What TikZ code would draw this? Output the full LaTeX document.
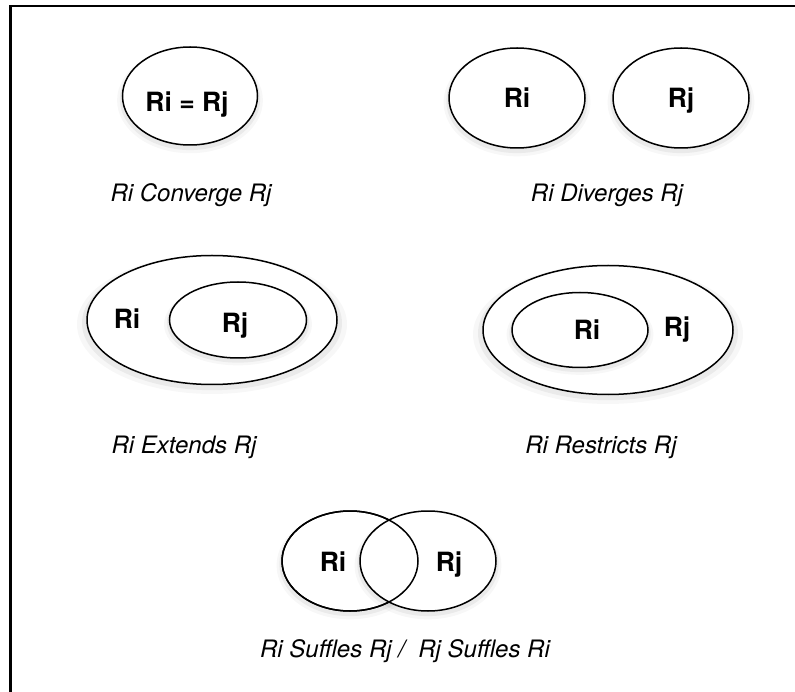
\documentclass[tikz,border=0pt]{standalone}
\usepackage{fontspec}
\setmainfont{TeX Gyre Heros}
\usetikzlibrary{shapes.geometric,shadows}
\tikzset{Region/.style={ellipse, draw, line width=1.5pt, fill=white, inner sep=0pt,
    minimum width=136pt, minimum height=100pt,
    general shadow={shadow yshift=-4pt, shadow scale=1.08, fill=black, opacity=.03},
    general shadow={shadow yshift=-3pt, shadow scale=1.04, fill=black, opacity=.05}}}
\tikzset{SetName/.style={anchor=base, font=\fontsize{26.5}{30}\selectfont\bfseries}}
\tikzset{Caption/.style={anchor=base, font=\fontsize{24}{28}\selectfont\itshape}}

\begin{document}
\begin{tikzpicture}[x=1pt, y=-1pt]
\useasboundingbox (0,0) rectangle (795,692);
\draw[line width=2.2pt] (795,6) -- (10.5,6) -- (10.5,692);
% converge
\node[Region, minimum width=135pt, minimum height=98pt] (conv) at (190,96) {};
\node[SetName] (convName) at (187,112) {Ri = Rj};
\node[Caption] (convCap) at (191,202) {Ri Converge Rj};
% diverges
\node[Region] (divI) at (517,98) {};
\node[Region] (divJ) at (681,98) {};
\node[SetName] (divIName) at (517,108) {Ri};
\node[SetName] (divJName) at (681,108) {Rj};
\node[Caption] (divCap) at (607,202) {Ri Diverges Rj};
% extends
\node[Region, minimum width=250pt, minimum height=129pt] (extI) at (212,320) {};
\node[Region, minimum width=137pt, minimum height=76pt] (extJ) at (238,320) {};
\node[SetName] (extIName) at (127,329) {Ri};
\node[SetName] (extJName) at (235,333) {Rj};
\node[Caption] (extCap) at (184,453) {Ri Extends Rj};
% restricts
\node[Region, minimum width=250pt, minimum height=129pt] (resJ) at (608,330) {};
\node[Region, minimum width=136pt, minimum height=75pt] (resI) at (580,330) {};
\node[SetName] (resIName) at (587,340) {Ri};
\node[SetName] (resJName) at (677,337) {Rj};
\node[Caption] (resCap) at (601,453) {Ri Restricts Rj};
% suffles
\node[Region] (sufI) at (350,561) {};
\node[Region] (sufJ) at (428,561) {};
\draw[line width=1.5pt] (sufI.center) ellipse [x radius=68pt, y radius=50pt];
\node[SetName] (sufIName) at (333,571) {Ri};
\node[SetName] (sufJName) at (449,571) {Rj};
\node[Caption] (sufCap) at (405,657) {Ri Suffles Rj / \ Rj Suffles Ri};
\end{tikzpicture}
\end{document}
